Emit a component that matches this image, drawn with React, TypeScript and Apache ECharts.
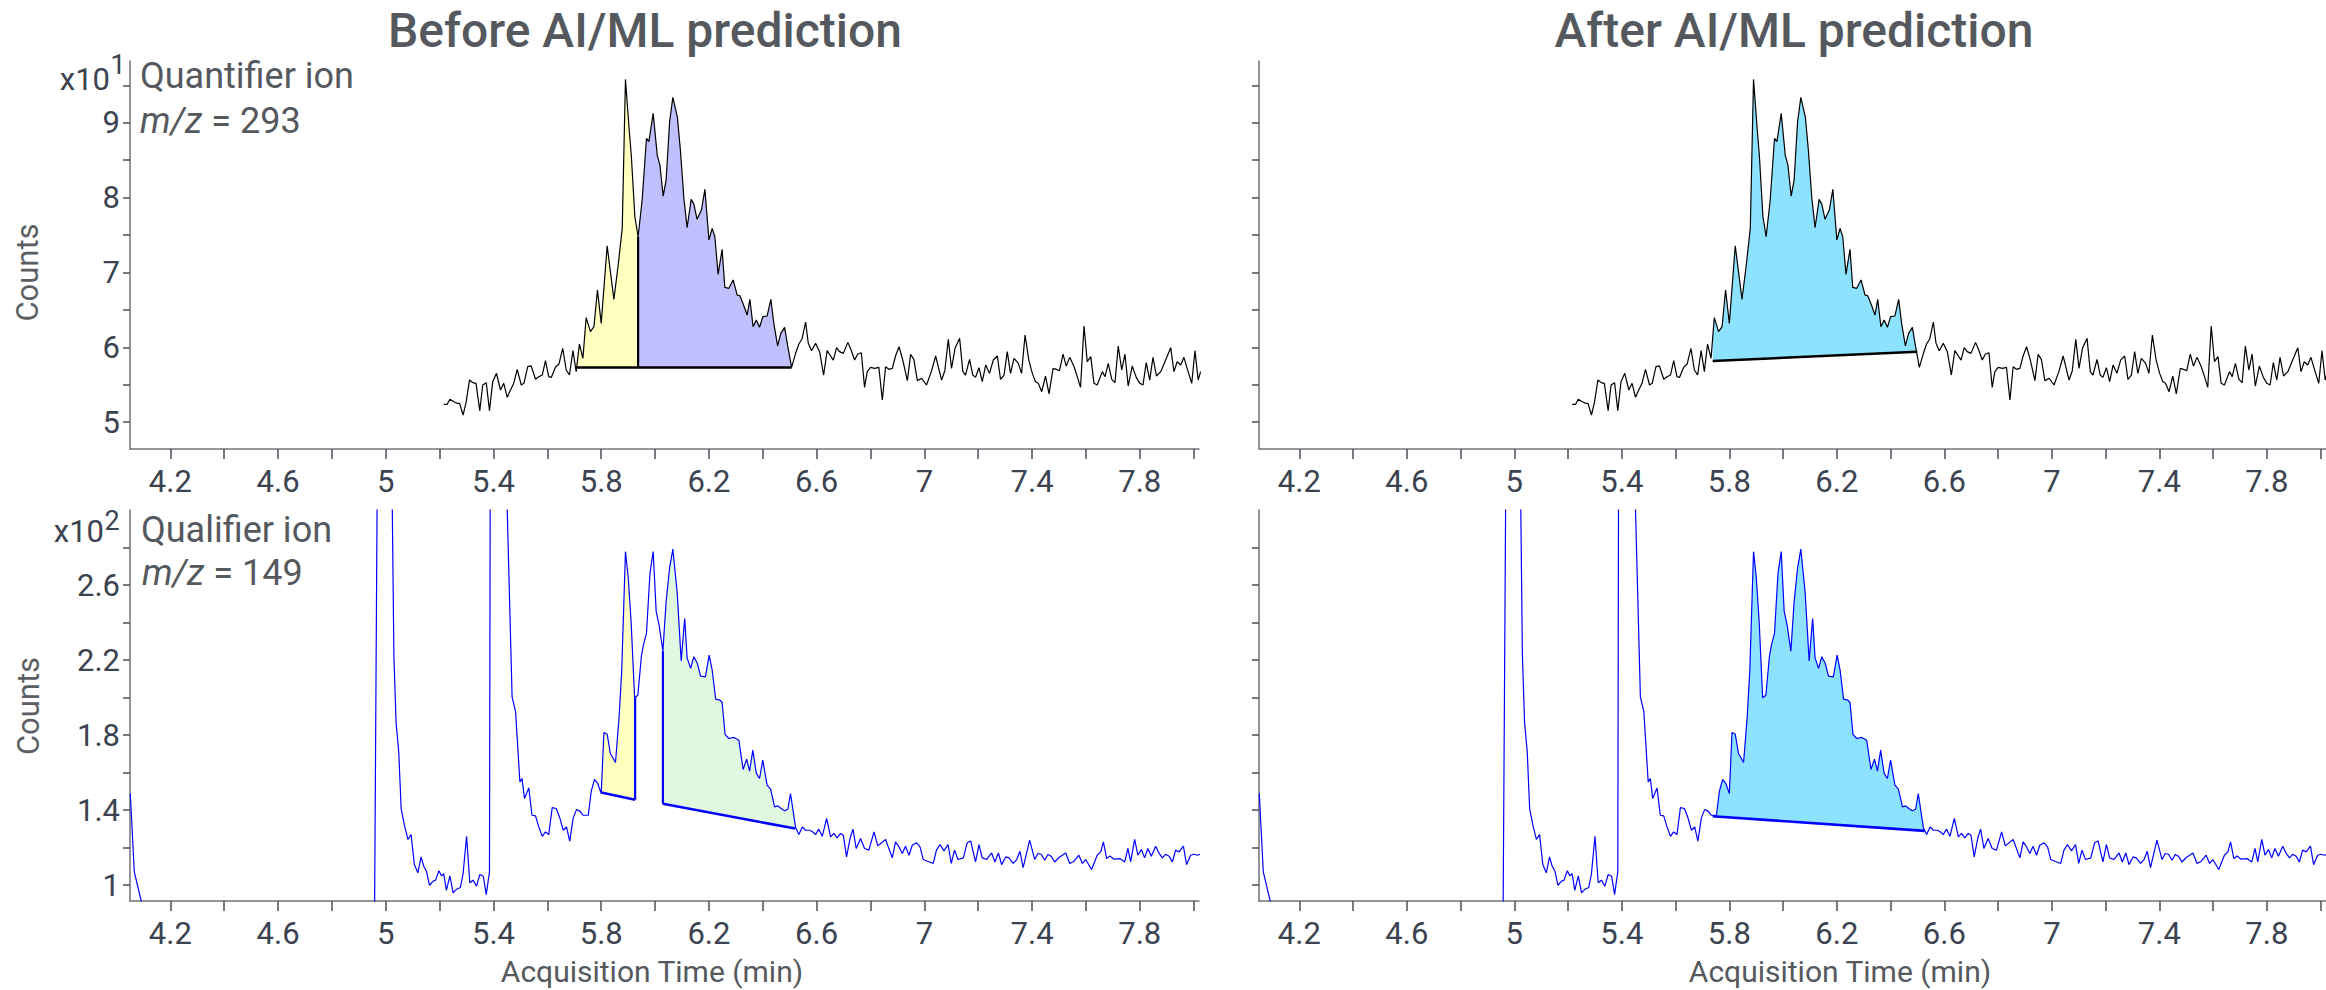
import React, { useEffect, useRef } from "react";
import * as echarts from "echarts";

// ---------- Quantifier ion m/z = 293 (counts x10^1) ----------
const quantTime = [
  5.215, 5.228, 5.238, 5.253, 5.265, 5.274, 5.287, 5.298, 5.311, 5.323, 5.335, 5.349, 5.36, 5.373, 5.385, 5.397,
  5.411, 5.426, 5.438, 5.451, 5.463, 5.475, 5.488, 5.503, 5.513, 5.527, 5.54, 5.556, 5.568, 5.581, 5.593, 5.605,
  5.615, 5.63, 5.643, 5.657, 5.67, 5.682, 5.695, 5.707, 5.719, 5.732, 5.744, 5.76, 5.773, 5.786, 5.8, 5.822,
  5.847, 5.863, 5.878, 5.89, 5.903, 5.912, 5.925, 5.937, 5.952, 5.968, 5.977, 5.993, 6.002, 6.008, 6.018, 6.03,
  6.041, 6.054, 6.066, 6.083, 6.094, 6.107, 6.119, 6.134, 6.144, 6.156, 6.172, 6.185, 6.2, 6.212, 6.222, 6.234,
  6.249, 6.259, 6.274, 6.29, 6.305, 6.315, 6.33, 6.342, 6.352, 6.364, 6.376, 6.388, 6.4, 6.416, 6.43, 6.441,
  6.455, 6.467, 6.481, 6.493, 6.507, 6.522, 6.534, 6.546, 6.559, 6.569, 6.581, 6.596, 6.611, 6.626, 6.639, 6.652,
  6.662, 6.674, 6.685, 6.699, 6.716, 6.728, 6.741, 6.753, 6.766, 6.778, 6.788, 6.8, 6.816, 6.831, 6.844, 6.856,
  6.868, 6.881, 6.893, 6.906, 6.92, 6.937, 6.949, 6.961, 6.974, 6.99, 7.008, 7.026, 7.042, 7.064, 7.076, 7.089,
  7.101, 7.114, 7.131, 7.143, 7.153, 7.168, 7.18, 7.19, 7.203, 7.215, 7.228, 7.242, 7.256, 7.271, 7.283, 7.296,
  7.308, 7.32, 7.333, 7.349, 7.361, 7.374, 7.388, 7.401, 7.413, 7.423, 7.436, 7.45, 7.463, 7.478, 7.49, 7.502,
  7.515, 7.527, 7.54, 7.556, 7.568, 7.58, 7.593, 7.605, 7.618, 7.63, 7.642, 7.661, 7.671, 7.683, 7.696, 7.708,
  7.72, 7.733, 7.745, 7.757, 7.772, 7.787, 7.8, 7.812, 7.824, 7.837, 7.849, 7.862, 7.878, 7.896, 7.915, 7.927,
  7.939, 7.952, 7.964, 7.977, 7.993, 8.005, 8.017, 8.026,
];
const quantCounts = [
  5.239, 5.239, 5.306, 5.274, 5.252, 5.252, 5.096, 5.261, 5.564, 5.528, 5.519, 5.154, 5.497, 5.528, 5.154, 5.541,
  5.653, 5.43, 5.519, 5.332, 5.43, 5.519, 5.706, 5.497, 5.519, 5.742, 5.751, 5.573, 5.608, 5.63, 5.822, 5.608,
  5.599, 5.733, 5.777, 5.986, 5.697, 5.63, 5.955, 5.675, 6.044, 5.853, 6.396, 6.209, 6.276, 6.765, 6.32, 7.357,
  6.641, 7.099, 7.589, 9.578, 8.946, 8.545, 7.744, 7.477, 7.967, 8.79, 8.746, 9.124, 8.79, 8.568, 8.434, 8.02,
  8.234, 9.013, 9.338, 9.071, 8.634, 7.989, 7.597, 7.976, 7.913, 7.709, 7.833, 8.109, 7.433, 7.589, 7.477, 6.974,
  7.308, 6.801, 6.788, 6.899, 6.698, 6.689, 6.552, 6.431, 6.641, 6.276, 6.365, 6.267, 6.409, 6.418, 6.641, 6.32,
  6.018, 6.187, 6.267, 6.009, 5.733, 5.92, 6.044, 6.115, 6.338, 6.053, 5.955, 6.053, 5.942, 5.63, 5.955, 5.884,
  5.83, 5.995, 5.942, 5.919, 6.066, 5.964, 5.83, 5.91, 5.928, 5.465, 5.675, 5.732, 5.719, 5.732, 5.296, 5.741,
  5.706, 5.719, 5.884, 6.008, 5.83, 5.555, 5.906, 5.839, 5.555, 5.586, 5.497, 5.675, 5.884, 5.563, 5.688, 6.106,
  5.719, 5.986, 6.12, 5.675, 5.63, 5.839, 5.63, 5.599, 5.728, 5.541, 5.764, 5.652, 5.83, 5.884, 5.572, 5.63,
  5.942, 5.652, 5.853, 5.786, 5.652, 6.164, 5.83, 5.652, 5.541, 5.519, 5.408, 5.617, 5.377, 5.719, 5.706, 5.688,
  5.91, 5.75, 5.866, 5.741, 5.608, 5.465, 6.284, 5.808, 5.875, 5.519, 5.497, 5.675, 5.608, 5.786, 5.572, 5.528,
  6.017, 5.697, 5.91, 5.483, 5.75, 5.599, 5.519, 5.497, 5.795, 5.563, 5.866, 5.617, 5.675, 5.83, 5.995, 5.675,
  5.808, 5.764, 5.866, 5.706, 5.519, 5.955, 5.563, 5.675,
];

// ---------- Qualifier ion m/z = 149 (counts x10^2) ----------
const qualTime = [
  4.051, 4.066, 4.091, 4.1, 4.958, 4.974, 4.995, 5.015, 5.03, 5.038, 5.048, 5.057, 5.069, 5.082, 5.094, 5.106,
  5.119, 5.131, 5.141, 5.151, 5.162, 5.175, 5.185, 5.197, 5.207, 5.215, 5.225, 5.238, 5.25, 5.263, 5.277, 5.287,
  5.3, 5.312, 5.324, 5.337, 5.349, 5.362, 5.373, 5.385, 5.39, 5.415, 5.44, 5.469, 5.482, 5.498, 5.506, 5.515,
  5.531, 5.543, 5.556, 5.568, 5.581, 5.593, 5.605, 5.618, 5.633, 5.645, 5.659, 5.671, 5.683, 5.696, 5.708, 5.721,
  5.733, 5.752, 5.763, 5.775, 5.787, 5.8, 5.81, 5.822, 5.834, 5.853, 5.866, 5.876, 5.89, 5.9, 5.911, 5.924,
  5.936, 5.949, 5.956, 5.968, 5.981, 5.993, 6.004, 6.015, 6.029, 6.041, 6.054, 6.066, 6.082, 6.097, 6.11, 6.119,
  6.132, 6.144, 6.157, 6.169, 6.187, 6.201, 6.212, 6.225, 6.241, 6.249, 6.26, 6.274, 6.293, 6.311, 6.327, 6.34,
  6.351, 6.363, 6.376, 6.388, 6.4, 6.416, 6.429, 6.444, 6.456, 6.468, 6.481, 6.493, 6.503, 6.522, 6.534, 6.547,
  6.559, 6.574, 6.586, 6.596, 6.608, 6.621, 6.637, 6.652, 6.664, 6.676, 6.689, 6.699, 6.711, 6.724, 6.735, 6.747,
  6.763, 6.778, 6.794, 6.813, 6.827, 6.856, 6.881, 6.893, 6.906, 6.918, 6.93, 6.943, 6.955, 6.971, 6.984, 6.996,
  7.011, 7.033, 7.045, 7.058, 7.073, 7.088, 7.1, 7.112, 7.125, 7.145, 7.159, 7.172, 7.19, 7.203, 7.215, 7.231,
  7.25, 7.262, 7.275, 7.287, 7.302, 7.314, 7.33, 7.343, 7.355, 7.367, 7.391, 7.41, 7.422, 7.434, 7.447, 7.459,
  7.471, 7.484, 7.5, 7.525, 7.54, 7.556, 7.574, 7.587, 7.599, 7.621, 7.642, 7.655, 7.665, 7.677, 7.689, 7.704,
  7.726, 7.744, 7.756, 7.766, 7.781, 7.793, 7.806, 7.818, 7.83, 7.843, 7.859, 7.871, 7.884, 7.896, 7.909, 7.921,
  7.933, 7.946, 7.962, 7.974, 7.989, 8.001, 8.014, 8.024,
];
const qualCounts = [
  1.489, 1.071, 0.92, 0.8, 0.8, 4.5, 6.0, 4.2, 2.227, 1.871, 1.711, 1.409, 1.32, 1.244, 1.27, 1.11,
  1.066, 1.151, 1.101, 1.075, 1.0, 1.021, 1.027, 1.077, 1.05, 1.062, 0.973, 1.05, 0.959, 0.979, 0.988, 1.062,
  1.261, 1.013, 1.027, 0.995, 1.057, 1.048, 0.95, 1.071, 4.8, 5.5, 3.6, 2.004, 1.924, 1.551, 1.569, 1.462,
  1.519, 1.373, 1.37, 1.311, 1.261, 1.284, 1.27, 1.414, 1.409, 1.364, 1.293, 1.311, 1.235, 1.359, 1.403, 1.395,
  1.373, 1.373, 1.501, 1.564, 1.542, 1.489, 1.814, 1.805, 1.702, 1.654, 1.889, 2.138, 2.778, 2.644, 2.404, 1.999,
  2.013, 2.218, 2.276, 2.342, 2.662, 2.778, 2.461, 2.387, 2.248, 2.511, 2.692, 2.792, 2.561, 2.195, 2.422, 2.212,
  2.156, 2.218, 2.182, 2.115, 2.111, 2.227, 2.147, 1.992, 1.987, 1.974, 1.804, 1.782, 1.788, 1.773, 1.617, 1.672,
  1.608, 1.72, 1.596, 1.569, 1.667, 1.534, 1.512, 1.418, 1.423, 1.409, 1.397, 1.405, 1.489, 1.306, 1.27, 1.311,
  1.293, 1.293, 1.284, 1.27, 1.299, 1.261, 1.356, 1.258, 1.276, 1.252, 1.276, 1.267, 1.151, 1.249, 1.299, 1.196,
  1.249, 1.196, 1.187, 1.284, 1.21, 1.244, 1.146, 1.231, 1.204, 1.169, 1.208, 1.16, 1.213, 1.226, 1.204, 1.137,
  1.128, 1.116, 1.187, 1.217, 1.183, 1.217, 1.116, 1.187, 1.137, 1.146, 1.226, 1.236, 1.124, 1.217, 1.146, 1.137,
  1.172, 1.124, 1.172, 1.11, 1.151, 1.146, 1.116, 1.137, 1.181, 1.094, 1.24, 1.137, 1.169, 1.165, 1.133, 1.164,
  1.155, 1.124, 1.148, 1.172, 1.116, 1.128, 1.16, 1.116, 1.137, 1.084, 1.16, 1.178, 1.231, 1.142, 1.156, 1.139,
  1.142, 1.124, 1.196, 1.124, 1.244, 1.16, 1.19, 1.146, 1.196, 1.155, 1.208, 1.172, 1.146, 1.165, 1.155, 1.124,
  1.187, 1.178, 1.208, 1.11, 1.16, 1.165, 1.16, 1.165,
];

// ---------- Peak integration (start/end time and baseline counts) ----------
const quantBeforeBaseline = [[5.709, 5.73], [6.507, 5.73]];
const quantBeforeSplit = 5.937;
const quantAfterBaseline = [[5.738, 5.817], [6.499, 5.941]];
const qualBeforePeakA = [[5.8, 1.494], [5.926, 1.456]];
const qualBeforePeakB = [[6.029, 1.434], [6.52, 1.302]];
const qualAfterBaseline = [[5.738, 1.368], [6.527, 1.29]];

// ---------- Axis ticks ----------
const xTickValues = [4.2, 4.4, 4.6, 4.8, 5, 5.2, 5.4, 5.6, 5.8, 6, 6.2, 6.4, 6.6, 6.8, 7, 7.2, 7.4, 7.6, 7.8, 8];
const xLabelValues = [4.2, 4.6, 5, 5.4, 5.8, 6.2, 6.6, 7, 7.4, 7.8];
const quantTickValues = [5, 5.5, 6, 6.5, 7, 7.5, 8, 8.5, 9, 9.5];
const quantLabelValues = [5, 6, 7, 8, 9];
const qualTickValues = [1, 1.2, 1.4, 1.6, 1.8, 2, 2.2, 2.4, 2.6, 2.8];
const qualLabelValues = [1, 1.4, 1.8, 2.2, 2.6];

const FONT = "Roboto, 'Noto Sans', sans-serif";
const AXIS_COLOR = "#6e737a";
const TICK_COLOR = "#4a4f57";
const LABEL_COLOR = "#3b4350";
const TEXT_GRAY = "#55595e";

function interp(ts: number[], vs: number[], x: number): number {
  for (let i = 0; i < ts.length - 1; i++) {
    if (x >= ts[i] && x <= ts[i + 1]) {
      const f = (x - ts[i]) / (ts[i + 1] - ts[i]);
      return vs[i] + f * (vs[i + 1] - vs[i]);
    }
  }
  return vs[vs.length - 1];
}

function pairs(ts: number[], vs: number[]) {
  return ts.map((t, i) => [t, vs[i]]);
}

function fillSeries(g: number, ts: number[], vs: number[], seg: number[][], color: string) {
  return {
    type: "custom",
    xAxisIndex: g,
    yAxisIndex: g,
    silent: true,
    z: 1,
    data: [[seg[0][0], seg[0][1], seg[1][0], seg[1][1]]],
    encode: { x: [0, 2], y: [1, 3] },
    renderItem: (params: any, api: any) => {
      const x0 = api.value(0), b0 = api.value(1), x1 = api.value(2), b1 = api.value(3);
      const pts: number[][] = [api.coord([x0, b0]), api.coord([x0, interp(ts, vs, x0)])];
      for (let i = 0; i < ts.length; i++) {
        if (ts[i] > x0 && ts[i] < x1) pts.push(api.coord([ts[i], vs[i]]));
      }
      pts.push(api.coord([x1, interp(ts, vs, x1)]));
      pts.push(api.coord([x1, b1]));
      return { type: "polygon", shape: { points: pts }, style: { fill: color } };
    },
  };
}

function segSeries(g: number, data: number[][], color: string, width = 2.6) {
  return {
    type: "line",
    xAxisIndex: g,
    yAxisIndex: g,
    data,
    symbol: "none",
    silent: true,
    z: 4,
    lineStyle: { color, width },
  };
}

function traceSeries(g: number, ts: number[], vs: number[], color: string) {
  return {
    type: "line",
    xAxisIndex: g,
    yAxisIndex: g,
    data: pairs(ts, vs),
    symbol: "none",
    showSymbol: false,
    clip: true,
    silent: true,
    z: 3,
    lineStyle: { color, width: 1.2 },
  };
}

function xAxis(g: number) {
  return {
    type: "value",
    gridIndex: g,
    min: 4.05,
    max: 8.02,
    axisLine: { show: true, onZero: false, lineStyle: { color: AXIS_COLOR, width: 1.5 } },
    axisTick: { show: true, length: 10, customValues: xTickValues, lineStyle: { color: TICK_COLOR, width: 1.5 } },
    axisLabel: {
      show: true,
      customValues: xLabelValues,
      fontSize: 31,
      fontFamily: FONT,
      color: LABEL_COLOR,
      margin: 17,
    },
    splitLine: { show: false },
  };
}

function yAxis(g: number, min: number, max: number, ticks: number[], labels: number[], showLabels: boolean) {
  return {
    type: "value",
    gridIndex: g,
    min,
    max,
    axisLine: { show: true, onZero: false, lineStyle: { color: AXIS_COLOR, width: 1.5 } },
    axisTick: { show: true, length: 7, customValues: ticks, lineStyle: { color: TICK_COLOR, width: 1.5 } },
    axisLabel: {
      show: showLabels,
      customValues: labels,
      fontSize: 31,
      fontFamily: FONT,
      color: LABEL_COLOR,
      margin: 10,
    },
    splitLine: { show: false },
  };
}

function txt(x: number, y: number, text: string, size: number, opts: any = {}) {
  return {
    type: "text",
    x,
    y,
    rotation: opts.rotation || 0,
    silent: true,
    style: {
      text,
      x: 0,
      y: 0,
      fill: opts.color || TEXT_GRAY,
      fontSize: size,
      fontFamily: FONT,
      fontWeight: opts.weight || "normal",
      fontStyle: opts.style || "normal",
      align: opts.align || "left",
      textAlign: opts.align || "left",
      verticalAlign: "middle",
      textVerticalAlign: "middle",
      rich: opts.rich,
    },
  };
}

const mzRich = {
  i: { fontSize: 36, fontFamily: FONT, fontStyle: "italic", fill: TEXT_GRAY, color: TEXT_GRAY },
  n: { fontSize: 36, fontFamily: FONT, fill: TEXT_GRAY, color: TEXT_GRAY },
};

export default function App() {
  const ref = useRef<HTMLDivElement>(null);
  useEffect(() => {
    const chart = echarts.init(ref.current as HTMLDivElement, null, { renderer: "svg" });
    const option: any = {
      animation: false,
      backgroundColor: "#ffffff",
      grid: [
        { left: 130, top: 61, width: 1069, height: 388 },
        { left: 1259, top: 61, width: 1067, height: 388 },
        { left: 130, top: 510, width: 1069, height: 391 },
        { left: 1259, top: 510, width: 1067, height: 391 },
      ],
      xAxis: [xAxis(0), xAxis(1), xAxis(2), xAxis(3)],
      yAxis: [
        yAxis(0, 4.642, 9.824, quantTickValues, quantLabelValues, true),
        yAxis(1, 4.642, 9.824, quantTickValues, quantLabelValues, false),
        yAxis(2, 0.916, 3.0, qualTickValues, qualLabelValues, true),
        yAxis(3, 0.916, 3.0, qualTickValues, qualLabelValues, false),
      ],
      series: [
        // Before: quantifier
        fillSeries(0, quantTime, quantCounts, [quantBeforeBaseline[0], [quantBeforeSplit, quantBeforeBaseline[0][1]]], "#ffffc0"),
        fillSeries(0, quantTime, quantCounts, [[quantBeforeSplit, quantBeforeBaseline[0][1]], quantBeforeBaseline[1]], "#c0c0ff"),
        traceSeries(0, quantTime, quantCounts, "#000000"),
        segSeries(0, quantBeforeBaseline, "#000000"),
        segSeries(0, [[quantBeforeSplit, quantBeforeBaseline[0][1]], [quantBeforeSplit, interp(quantTime, quantCounts, quantBeforeSplit)]], "#000000", 2.2),
        // After: quantifier
        fillSeries(1, quantTime, quantCounts, quantAfterBaseline, "#8de3ff"),
        traceSeries(1, quantTime, quantCounts, "#000000"),
        segSeries(1, quantAfterBaseline, "#000000"),
        // Before: qualifier
        fillSeries(2, qualTime, qualCounts, qualBeforePeakA, "#ffffc0"),
        fillSeries(2, qualTime, qualCounts, qualBeforePeakB, "#e0f8e0"),
        traceSeries(2, qualTime, qualCounts, "#0000ff"),
        segSeries(2, qualBeforePeakA, "#0000ff"),
        segSeries(2, [qualBeforePeakA[1], [qualBeforePeakA[1][0], interp(qualTime, qualCounts, qualBeforePeakA[1][0])]], "#0000ff", 2.2),
        segSeries(2, qualBeforePeakB, "#0000ff"),
        segSeries(2, [qualBeforePeakB[0], [qualBeforePeakB[0][0], interp(qualTime, qualCounts, qualBeforePeakB[0][0])]], "#0000ff", 2.2),
        // After: qualifier
        fillSeries(3, qualTime, qualCounts, qualAfterBaseline, "#8de3ff"),
        traceSeries(3, qualTime, qualCounts, "#0000ff"),
        segSeries(3, qualAfterBaseline, "#0000ff"),
      ],
      graphic: [
        txt(645, 30, "Before AI/ML prediction", 48, { align: "center", weight: 500 }),
        txt(1794, 30, "After AI/ML prediction", 48, { align: "center", weight: 500 }),
        txt(140, 76, "Quantifier ion", 36),
        txt(140, 120.5, "{i|m/z}{n| = 293}", 36, { rich: mzRich }),
        txt(141, 529.5, "Qualifier ion", 36),
        txt(142, 573, "{i|m/z}{n| = 149}", 36, { rich: mzRich }),
        txt(110, 79, "x10", 31, { align: "right", color: LABEL_COLOR }),
        txt(110.5, 65, "1", 27, { color: LABEL_COLOR }),
        txt(104, 531.5, "x10", 31, { align: "right", color: LABEL_COLOR }),
        txt(104.5, 521, "2", 27, { color: LABEL_COLOR }),
        txt(27, 272.5, "Counts", 31, { align: "center", rotation: Math.PI / 2, color: "#5b5f64" }),
        txt(28, 706, "Counts", 31, { align: "center", rotation: Math.PI / 2, color: "#5b5f64" }),
        txt(652, 971.5, "Acquisition Time (min)", 30, { align: "center", color: "#55595e" }),
        txt(1840, 971.5, "Acquisition Time (min)", 30, { align: "center", color: "#55595e" }),
      ],
    };
    chart.setOption(option);
    return () => chart.dispose();
  }, []);
  return (
    <div
      ref={ref}
      style={{ position: "absolute", left: 0, top: 0, width: 2326, height: 990, background: "#fff" }}
    />
  );
}
